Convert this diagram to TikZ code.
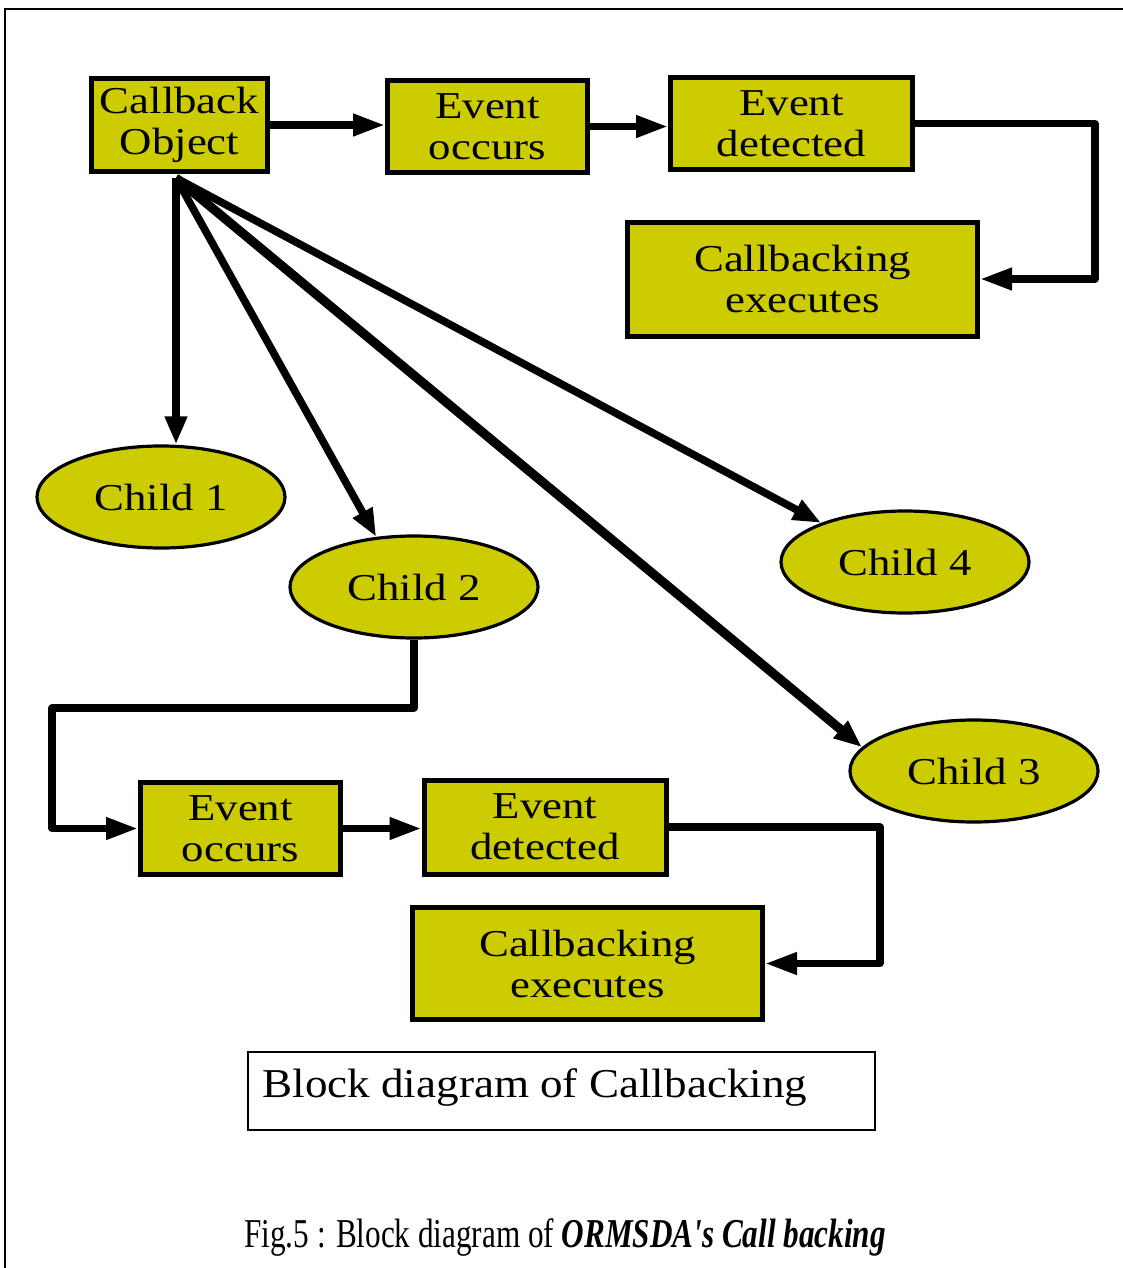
\documentclass[tikz,border=0pt]{standalone}
\usepackage{fontspec}
\setmainfont{Liberation Serif}
\newfontfamily\blockfont[FakeStretch=1.18]{Liberation Serif}
\newfontfamily\titlefont[FakeStretch=1.1]{Liberation Serif}
\newfontfamily\capfont[FakeStretch=0.76]{Liberation Serif}
\usetikzlibrary{arrows.meta,shapes.geometric}
\definecolor{blockfill}{RGB}{204,204,0}

\begin{document}
\begin{tikzpicture}[x=0.5pt,y=-0.5pt,
  block/.style={draw, line width=2.5pt, fill=blockfill, inner sep=0pt,
    align=center, font=\blockfont\fontsize{19}{20.5}\selectfont},
  child/.style={ellipse, draw, line width=1.6pt, fill=blockfill, inner sep=0pt,
    minimum width=124pt, minimum height=51pt,
    font=\blockfont\fontsize{19}{20.5}\selectfont},
  link/.style={line width=3.6pt, line join=round,
    -{Triangle[length=16pt,width=10.5pt]}},
  spoke/.style={line width=3.8pt,
    -{Triangle[length=14pt,width=10.5pt]}},
]
\useasboundingbox (0,0) rectangle (1123,1268);

% page frame (left and top edges)
\draw[line width=0.8pt] (5,1268) -- (5,9) -- (1123,9);

% upper chain
\node[block, minimum width=88pt, minimum height=46pt] (cb) at (179.5,125) {Callback\\Object};
\node[block, minimum width=100pt, minimum height=46pt] (eo1) at (487.5,126.5) {Event\\occurs};
\node[block, minimum width=121pt, minimum height=46pt] (ed1) at (791.5,123.5) {Event\\detected};
\node[block, minimum width=175pt, minimum height=57pt] (ce1) at (802.5,279) {Callbacking\\executes};

% children
\node[child] (c1) at (161,497) {Child 1};
\node[child] (c2) at (414,587) {Child 2};
\node[child] (c4) at (905,562) {Child 4};
\node[child] (c3) at (974,771) {Child 3};

% lower chain
\node[block, minimum width=100pt, minimum height=46pt] (eo2) at (240.5,828.5) {Event\\occurs};
\node[block, minimum width=121pt, minimum height=47pt] (ed2) at (545,827) {Event\\detected};
\node[block, minimum width=175pt, minimum height=56pt] (ce2) at (587.5,963.5) {Callbacking\\executes};

% title frame and text
\node[draw, line width=0.7pt, minimum width=313.5pt, minimum height=39pt, inner sep=0pt] (lbl) at (561.5,1091) {};
\node[anchor=base west, inner sep=0pt, font=\titlefont\fontsize{20.5}{24}\selectfont] (lbltext) at (262,1097) {Block diagram of Callbacking};

% caption
\node[anchor=base, inner sep=0pt, font=\capfont\fontsize{20.5}{24}\selectfont] (cap) at (565,1247)
  {Fig.5 : Block diagram of \textbf{\textit{ORMSDA's Call backing}}};

% upper chain connectors
\draw[link] (cb.east) -- (cb.east -| eo1.west);
\draw[link] (eo1.east) -- (eo1.east -| ed1.west);
\coordinate (turn1) at (1095,123.5);
\draw[link] (ed1.east) -- (turn1) |- (ce1.east);

% spokes from the callback object to the children
\coordinate (hub) at (176,178);
\draw[spoke] (hub) -- (hub |- c1.north);
\draw[spoke] (hub) -- (c2.127);
\draw[spoke] (hub) -- (c4.155);
\draw[spoke, line width=4.6pt] (hub) -- (c3.168);

% lower chain connectors
\coordinate (turn2) at (52,708);
\draw[link] (c2.south) |- (turn2) |- (eo2.west);
\draw[link] (eo2.east) -- (eo2.east -| ed2.west);
\coordinate (turn3) at (880,827);
\draw[link] (ed2.east) -- (turn3) |- (ce2.east);
\end{tikzpicture}
\end{document}
